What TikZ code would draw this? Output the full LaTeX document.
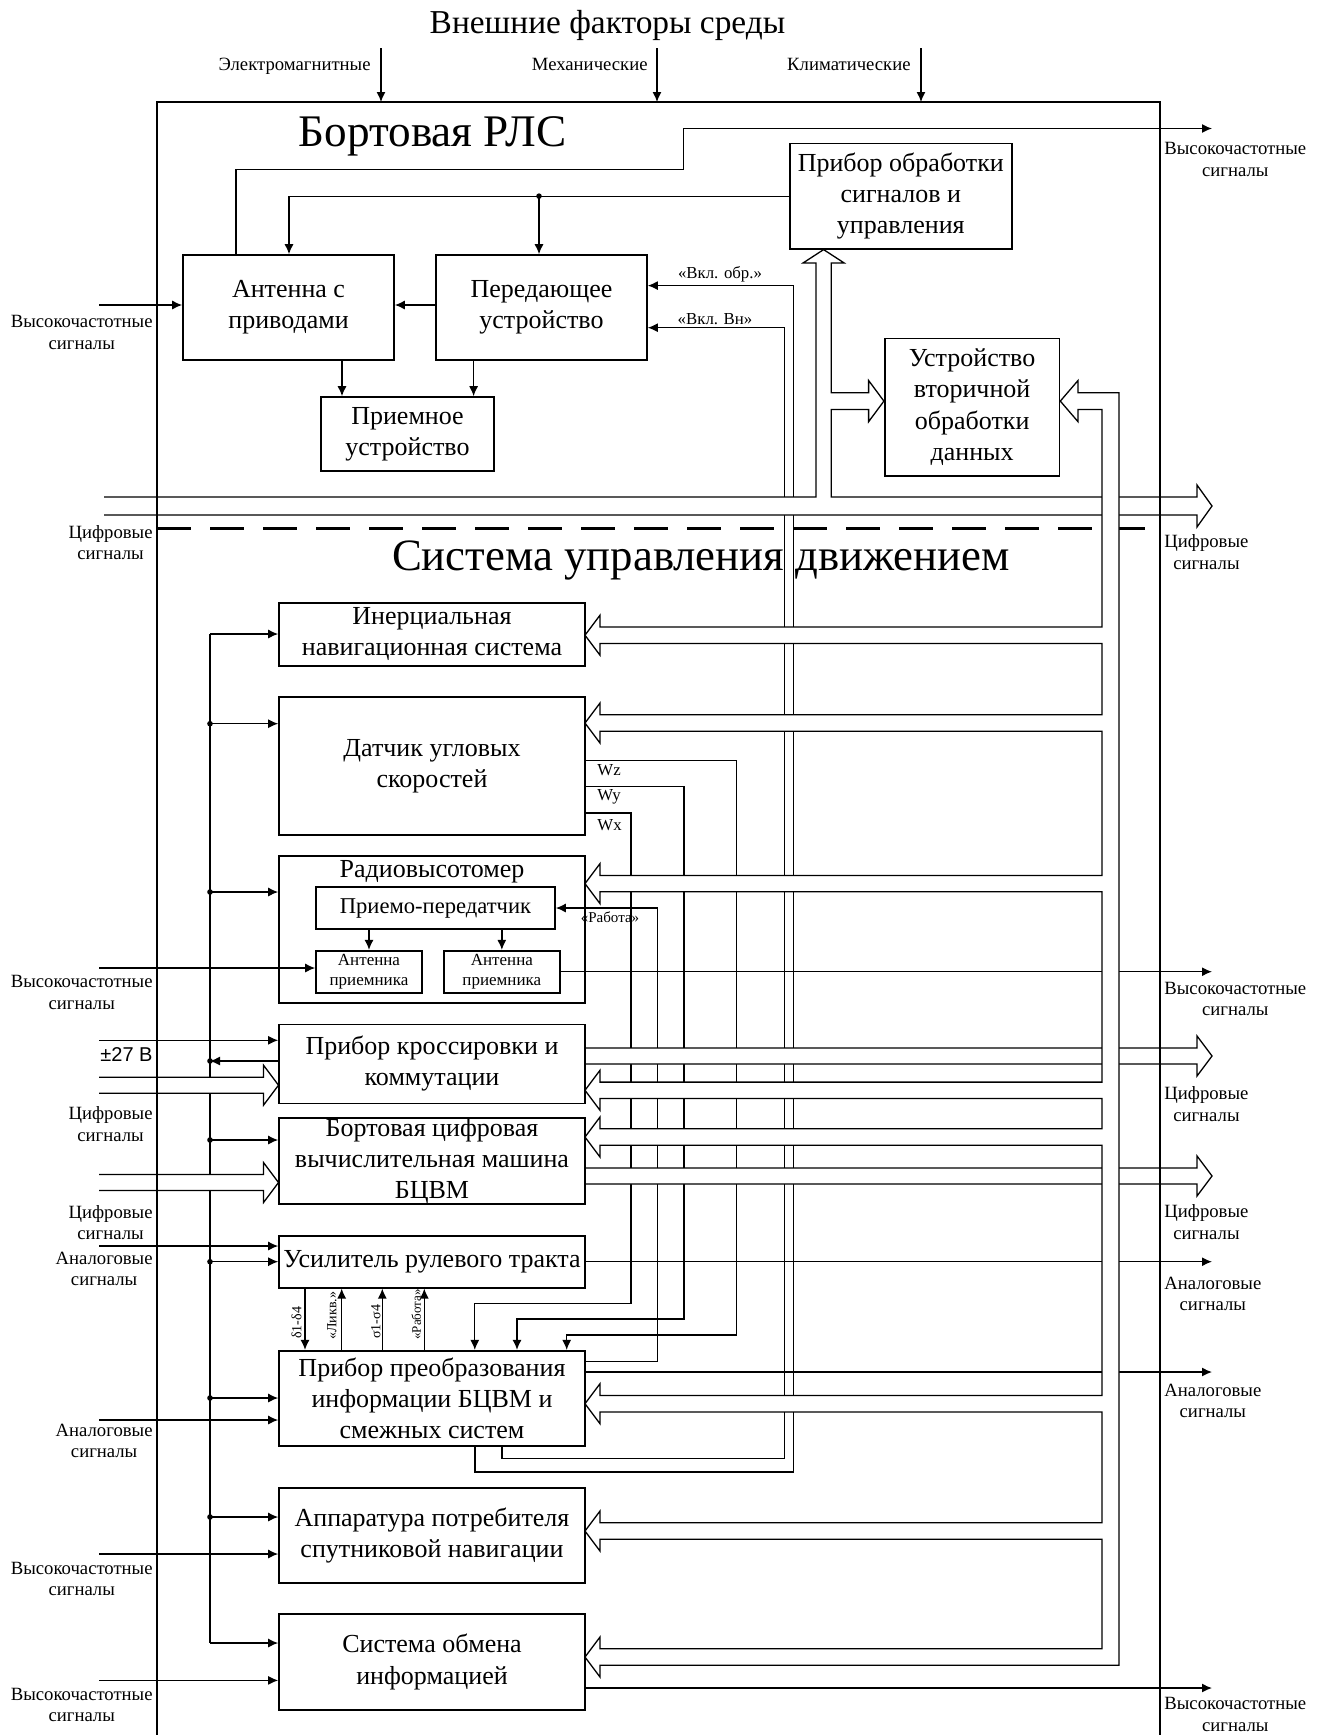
\documentclass[tikz,border=0pt]{standalone}
\usepackage{fontspec}
\setmainfont{Liberation Serif}
\newfontfamily\voltfont{Liberation Sans}
\usetikzlibrary{arrows.meta}

\newcommand{\sighf}{Высокочастотные\\сигналы}
\newcommand{\sigdig}{Цифровые\\сигналы}
\newcommand{\sigan}{Аналоговые\\сигналы}
\newcommand{\hollowright}[3]{%
  \filldraw[sig,fill=white] (#1,#3-8) -- (#2-15,#3-8) -- (#2-15,#3-20) -- (#2,#3)
    -- (#2-15,#3+20) -- (#2-15,#3+8) -- (#1,#3+8);}

\begin{document}
\begin{tikzpicture}[x=0.5pt,y=-0.5pt,
  sig/.style={line width=0.65pt},
  arr/.style={sig,-{Latex[length=5pt,width=4.5pt]}},
  box/.style={draw,line width=0.8pt,inner sep=0pt,align=center,font=\fontsize{13}{15.6}\selectfont},
  lowbox/.style={box,minimum width=153pt},
  antbox/.style={box,font=\fontsize{8.5}{10.3}\selectfont},
  lbl/.style={inner sep=0pt,align=center,font=\fontsize{9.35}{10.75}\selectfont},
  tag/.style={inner sep=0pt,font=\fontsize{8.4}{9.6}\selectfont},
  smalltag/.style={inner sep=0pt,font=\fontsize{7}{8.4}\selectfont}]

\useasboundingbox (0,0) rectangle (1321,1735);

\node[font=\fontsize{16.7}{19}\selectfont,anchor=base] (env) at (607.5,33) {Внешние факторы среды};
\node[lbl,anchor=base east] (em) at (371,70) {Электромагнитные};
\node[lbl,anchor=base east] (mech) at (648,70) {Механические};
\node[lbl,anchor=base east] (clim) at (911,70) {Климатические};
\node[font=\fontsize{22.6}{27}\selectfont,anchor=base] (rls) at (432.6,146.7) {Бортовая РЛС};
\node[font=\fontsize{22.4}{27}\selectfont,anchor=base] (sud) at (701,570) {Система управления движением};

\node[box,minimum width=105.5pt,minimum height=52.5pt] (ant) at (288.5,307.5) {Антенна с\\приводами};
\node[box,minimum width=105.5pt,minimum height=52.5pt] (tx) at (541.5,307.5) {Передающее\\устройство};
\node[box,minimum width=86.5pt,minimum height=37pt] (rx) at (407.5,434) {Приемное\\устройство};
\node[box,minimum width=111pt,minimum height=52.65pt] (dsp) at (900.8,196.15) {Прибор обработки\\сигналов и\\управления};
\node[box,minimum width=87.4pt,minimum height=68.75pt] (sdp) at (972.1,407.15) {Устройство\\вторичной\\обработки\\данных};

\node[lowbox,minimum height=31.65pt] (ins) at (432,634.35) {Инерциальная\\навигационная система};
\node[lowbox,minimum height=69pt] (dus) at (432,766) {Датчик угловых\\скоростей};
\node[lowbox,minimum height=73.65pt] (rv) at (432,929.35) {};
\node[font=\fontsize{13}{15.6}\selectfont] (rvtitle) at (432,871.7) {Радиовысотомер};
\node[box,minimum width=119.5pt,minimum height=21pt,font=\fontsize{11.3}{13.5}\selectfont] (ppt) at (435.5,908) {Приемо-передатчик};
\node[antbox,minimum width=53pt,minimum height=21pt] (ant1) at (369,971.7) {Антенна\\приемника};
\node[antbox,minimum width=58.15pt,minimum height=21pt] (ant2) at (501.85,971.7) {Антенна\\приемника};
\node[lowbox,minimum height=39.5pt] (kros) at (432,1063.8) {Прибор кроссировки и\\коммутации};
\node[lowbox,minimum height=42.15pt] (bcvm) at (432,1161.15) {Бортовая цифровая\\вычислительная машина\\БЦВМ};
\node[lowbox,minimum height=26pt] (usil) at (432,1261.7) {Усилитель рулевого тракта};
\node[lowbox,minimum height=47.65pt] (ppi) at (432,1398.35) {Прибор преобразования\\информации БЦВМ и\\смежных систем};
\node[lowbox,minimum height=47.5pt] (apsn) at (432,1535.5) {Аппаратура потребителя\\спутниковой навигации};
\node[lowbox,minimum height=48pt] (soi) at (432,1662) {Система обмена\\информацией};

\foreach \y/\t [count=\i] in {332.5/\sighf,542.5/\sigdig,992.4/\sighf,1124/\sigdig,1222.5/\sigdig,1269/\sigan,1441/\sigan,1579/\sighf,1705/\sighf}
  \node[lbl,anchor=east] (lsig\i) at (153,\y) {\t};
\foreach \y/\t [count=\i] in {159.5/\sighf,552/\sigdig,998.8/\sighf,1104/\sigdig,1222.3/\sigdig,1294/\sigan,1401/\sigan,1714.5/\sighf}
  \node[lbl,anchor=west] (rsig\i) at (1164,\y) {\t};
\node[inner sep=0pt,anchor=east,font=\voltfont\fontsize{10}{12}\selectfont] (volt) at (153,1055) {±27 В};
\node[tag] (vklobr) at (720,274) {«Вкл. обр.»};
\node[tag] (vklvn) at (715,318.8) {«Вкл. Вн»};
\node[tag,anchor=west] (wz) at (597,770) {Wz};
\node[tag,anchor=west] (wy) at (597,797) {Wy};
\node[tag,anchor=west] (wx) at (597,825.6) {Wx};
\node[smalltag,font=\fontsize{7.5}{9}\selectfont] (rab1) at (610,916.7) {«Работа»};
\node[smalltag,rotate=90,anchor=south west] (d14) at (302,1339) {δ1-δ4};
\node[smalltag,rotate=90,anchor=south west] (likv) at (337,1340) {«Ликв.»};
\node[smalltag,rotate=90,anchor=south west] (s14) at (381,1339) {σ1-σ4};
\node[smalltag,rotate=90,anchor=south west,font=\fontsize{6.5}{8}\selectfont] (rab2) at (421.5,1340) {«Работа»};

\draw[arr] (ant.north -| 236,0) -- (236,169.6) -- (683.6,169.6) -- (683.6,128.5) -- (1212,128.5);
\draw[arr] (dsp.west) -| (ant.north -| 289,0);
\coordinate (jn) at (539,196.15);
\fill (jn) circle (1.4pt);
\draw[arr] (jn) -- (tx.north -| jn);
\draw[arr] (tx.west |- 0,305) -- (ant.east |- 0,305);
\draw[arr] (99,305) -- (ant.west |- 0,305);
\draw[arr] (ant.south -| 342,0) -- (rx.north -| 342,0);
\draw[arr] (tx.south -| 473.6,0) -- (rx.north -| 473.6,0);
\draw[arr] (ppi.south -| 475,0) |- (793.7,1472) -- (793.7,285.6) -- (tx.east |- 0,285.6);
\draw[arr] (ppi.south -| 502,0) |- (784.4,1458.6) -- (784.4,327.7) -- (tx.east |- 0,327.7);

\draw[sig] (210,634) -- (210,1643);
\foreach \n/\y in {ins/634,dus/723.7,rv/892,bcvm/1140,usil/1261.7,ppi/1398,apsn/1517,soi/1643}
  \draw[arr] (210,\y) -- (\n.west |- 0,\y);
\foreach \y in {723.7,892,1061,1140,1261.7,1398,1517}
  \fill (210,\y) circle (1.4pt);
\draw[arr] (kros.west |- 0,1061) -- (210,1061);
\draw[arr] (99,1040.3) -- (kros.west |- 0,1040.3);
\draw[arr] (99,968) -- (ant1.west |- 0,968);
\draw[arr] (99,1246) -- (usil.west |- 0,1246);
\draw[arr] (99,1420) -- (ppi.west |- 0,1420);
\draw[arr] (99,1554) -- (apsn.west |- 0,1554);
\draw[arr] (99,1680.4) -- (soi.west |- 0,1680.4);
\draw[arr] (ppt.south -| ant1.north) -- (ant1.north);
\draw[arr] (ppt.south -| ant2.north) -- (ant2.north);
\draw[arr] (ant2.east) -- (ant2.east -| 1212,0);
\draw[arr] (usil.east) -- (usil.east -| 1212,0);
\draw[arr] (ppi.east |- 0,1372) -- (1212,1372);
\draw[arr] (soi.east |- 0,1688) -- (1212,1688);
\draw[arr] (ppi.east |- 0,1361.5) -| (657.3,908) -- (ppt.east);
\draw[arr] (dus.east |- 0,760.6) -| (736.5,1335) -| (ppi.north -| 566.7,0);
\draw[arr] (dus.east |- 0,786.3) -| (684,1319) -| (ppi.north -| 517,0);
\draw[arr] (dus.east |- 0,813) -| (631,1303.3) -| (ppi.north -| 474.8,0);
\draw[arr] (usil.south -| 305,0) -- (ppi.north -| 305,0);
\foreach \x in {341.7,382.3,424.3}
  \draw[arr] (ppi.north -| \x,0) -- (usil.south -| \x,0);

\draw[line width=1.3pt,dash pattern=on 17pt off 9.5pt] (157,528.5) -- (1160,528.5);

\filldraw[sig,fill=white] (104,497) -- (816,497) -- (816,263) -- (803,263) -- (dsp.south -| 823.6,0) -- (844.2,263)
  -- (831.2,263) -- (831.2,392.7) -- (868.6,392.7) -- (868.6,380.5) -- (sdp.west |- 0,401.1) -- (868.6,421.7)
  -- (868.6,409.5) -- (831.2,409.5) -- (831.2,497) -- (1197,497) -- (1197,485) -- (1212,506) -- (1197,527)
  -- (1197,515) -- (104,515);
\hollowright{586}{1212}{1056}
\hollowright{586}{1212}{1176}
\hollowright{99}{278.5}{1085.2}
\hollowright{99}{278.5}{1182.5}

\filldraw[sig,fill=white] (1119,392.7) -- (1078,392.7) -- (1078,380.5) -- (sdp.east |- 0,401.1) -- (1078,421.7)
  -- (1078,409.5) -- (1102,409.5)
  \foreach \c in {635.2,723,883.6,1090.3,1137,1403.7,1531} {
    -- (1102,\c-8.2) -- (600,\c-8.2) -- (600,\c-20) -- (585,\c) -- (600,\c+20) -- (600,\c+8.2) -- (1102,\c+8.2)}
  -- (1102,1648.8) -- (600,1648.8) -- (600,1637) -- (585,1657) -- (600,1677) -- (600,1665.2) -- (1119,1665.2) -- cycle;

\draw[line width=1.1pt] (157,1745) -- (157,102) -- (1160,102) -- (1160,1745);
\foreach \x in {381,657,921}
  \draw[arr] (\x,48) -- (\x,102);
\end{tikzpicture}
\end{document}
